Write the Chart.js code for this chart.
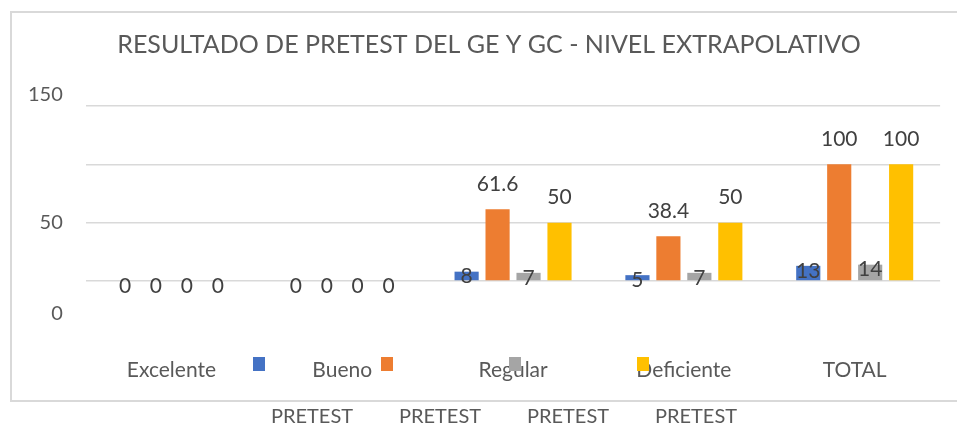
<!DOCTYPE html>
<html>
<head>
<meta charset="utf-8">
<script src="https://cdn.jsdelivr.net/npm/chart.js@4"></script>
<style>
  html, body { margin: 0; padding: 0; background: #fff; }
  #marco { position: relative; width: 957px; height: 425px; overflow: hidden; font-family: Lato, sans-serif; }
  #borde { position: absolute; left: 10px; top: 11px; width: 960px; height: 391px; border: 2px solid #d9d9d9; box-sizing: border-box; }
  #grafico { position: absolute; left: 0; top: 0; }
  .marca { position: absolute; width: 12px; height: 14px; top: 357px; }
  .texto { position: absolute; top: 403px; width: 100px; text-align: center; font-size: 20px; color: #595959; }
</style>
</head>
<body>
<div id="marco">
  <div id="borde"></div>
  <canvas id="grafico" width="957" height="425"></canvas>
  <div id="leyenda"></div>
</div>
<script>
const categorias = ["Excelente", "Bueno", "Regular", "Deficiente", "TOTAL"];
const serie1 = [0, 0, 8, 5, 13];
const serie2 = [0, 0, 61.6, 38.4, 100];
const serie3 = [0, 0, 7, 7, 14];
const serie4 = [0, 0, 50, 50, 100];
const nombres = ["PRETEST", "PRETEST", "PRETEST", "PRETEST"];
const colores = ["#4472C4", "#ED7D31", "#A5A5A5", "#FFC000"];
const marcasY = [0, 50, 150]; // el 100 no aparece en el original

// etiquetas de datos: azul y gris quedan pegadas a la barra, naranja y amarillo encima
const etiquetas = {
  id: "etiquetas",
  afterDatasetsDraw(chart) {
    const ctx = chart.ctx;
    ctx.save();
    ctx.font = "21px Lato";
    ctx.fillStyle = "#404040";
    ctx.textAlign = "center";
    ctx.textBaseline = "middle";
    chart.data.datasets.forEach((ds, i) => {
      chart.getDatasetMeta(i).data.forEach((barra, j) => {
        const v = ds.data[j];
        const arriba = (i === 1 || i === 3) && v > 0;
        const y = arriba ? barra.y - 25 : barra.y + 5;
        ctx.fillText(String(v), barra.x, y);
      });
    });
    ctx.restore();
  }
};

const series = [serie1, serie2, serie3, serie4];

const grafico = new Chart(document.getElementById("grafico"), {
  type: "bar",
  data: {
    labels: categorias,
    datasets: series.map((s, i) => ({
      label: nombres[i],
      data: s,
      backgroundColor: colores[i],
      barPercentage: 0.78,
      categoryPercentage: 0.725
    }))
  },
  options: {
    responsive: false,
    animation: false,
    devicePixelRatio: 1,
    // padding izquierdo para que el título quede centrado como en el original
    layout: { padding: { left: 35, right: 14, top: 0, bottom: 0 } },
    plugins: {
      legend: { display: false },
      tooltip: { enabled: false },
      title: {
        display: true,
        text: "RESULTADO DE PRETEST DEL GE Y GC - NIVEL EXTRAPOLATIVO",
        color: "#595959",
        font: { family: "Lato", size: 25, weight: "normal", lineHeight: 1.2 },
        padding: { top: 30, bottom: 46 }
      }
    },
    scales: {
      x: {
        grid: { display: false },
        border: { display: false },
        ticks: { color: "#595959", font: { family: "Lato", size: 21 }, padding: 69 },
        afterFit: s => { s.height = 144; }
      },
      y: {
        min: 0,
        max: 150,
        grid: { color: "#d9d9d9", lineWidth: 1.5, drawTicks: false },
        border: { display: false },
        ticks: {
          stepSize: 50,
          autoSkip: false,
          // mirror para que el texto no se recorte fuera de la caja del eje
          mirror: true,
          crossAlign: "far",
          padding: -58,
          color: "#595959",
          font: { family: "Lato", size: 20, lineHeight: 1.1 },
          callback: v => {
            if (!marcasY.includes(v)) return "";
            if (v === 0) return ["", "", "", "0"];
            if (v === 150) return ["150", ""];
            return String(v);
          }
        },
        afterFit: s => { s.width = 51; }
      }
    }
  },
  plugins: [etiquetas]
});

// leyenda a mano: cuadros arriba, textos abajo como en el original
const leyenda = document.getElementById("leyenda");
grafico.data.datasets.forEach((ds, i) => {
  const x = 253 + i * 128;
  const m = document.createElement("div");
  m.className = "marca";
  m.style.left = x + "px";
  m.style.background = ds.backgroundColor;
  leyenda.appendChild(m);
  const t = document.createElement("div");
  t.className = "texto";
  t.style.left = (x + 9) + "px";
  t.textContent = ds.label;
  leyenda.appendChild(t);
});
</script>
</body>
</html>
